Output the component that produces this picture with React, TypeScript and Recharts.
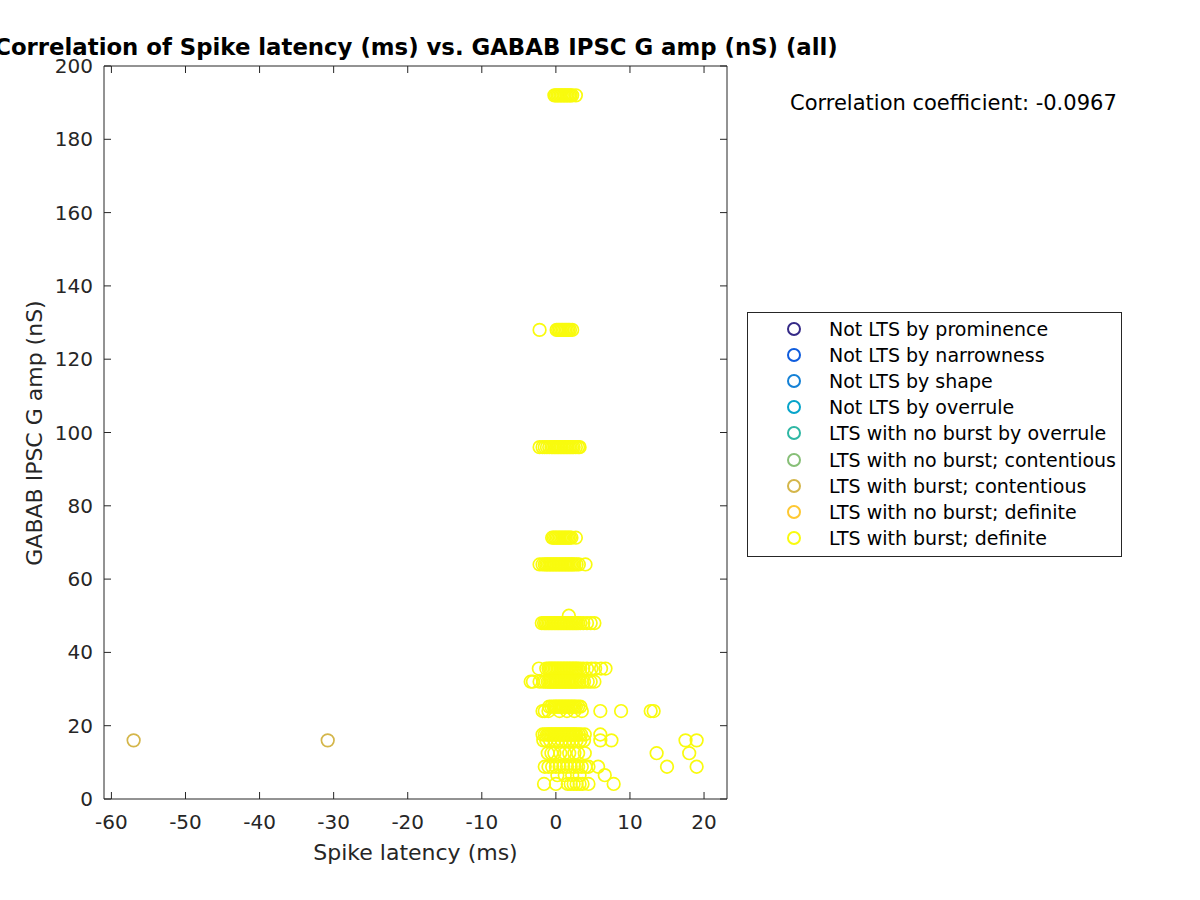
import React from "react";
import {
	ScatterChart,
	Scatter,
	XAxis,
	YAxis,
	Label,
} from "recharts";

// latencies (ms) for each GABAB amplitude level (nS), LTS with burst; definite
const amp192 = [-0.2, 0.0, 0.2, 0.4, 0.6, 0.8, 1.0, 1.2, 1.4, 1.6, 1.8, 2.0, 2.2, 2.7];
const amp128 = [-2.2, 0.1, 0.3, 0.5, 0.7, 0.9, 1.1, 1.3, 1.5, 1.7, 1.9, 2.2];
const amp96 = [-2.2, -1.8, -1.5, -1.2, -0.9, -0.6, -0.4, -0.2, 0.0, 0.2, 0.4, 0.6, 0.8, 1.0, 1.2, 1.4, 1.6, 1.8, 2.0, 2.2, 2.4, 2.7, 3.0, 3.2];
const amp71 = [-0.5, -0.3, -0.1, 0.1, 0.3, 0.5, 0.7, 0.9, 1.1, 1.3, 1.5, 1.7, 1.9, 2.1, 2.7];
const amp64 = [-2.2, -1.8, -1.5, -1.3, -1.1, -0.9, -0.7, -0.5, -0.3, -0.1, 0.1, 0.3, 0.5, 0.7, 0.9, 1.1, 1.3, 1.5, 1.7, 1.9, 2.1, 2.3, 2.5, 2.8, 3.1, 4.0];
const amp50 = [1.75];
const amp48 = [-1.9, -1.6, -1.4, -1.2, -1.0, -0.8, -0.6, -0.4, -0.2, 0.0, 0.2, 0.4, 0.6, 0.8, 1.0, 1.2, 1.4, 1.6, 1.8, 2.0, 2.2, 2.4, 2.6, 2.8, 3.0, 3.3, 3.7, 4.2, 4.7, 5.2];
const amp36 = [-2.3, -1.3, -1.0, -0.8, -0.6, -0.4, -0.2, 0.0, 0.2, 0.4, 0.6, 0.8, 1.0, 1.2, 1.4, 1.6, 1.8, 2.0, 2.2, 2.4, 2.6, 2.8, 3.0, 3.3, 3.7, 4.2, 4.8, 5.3, 6.1, 6.7];
const amp32 = [-3.4, -3.1, -2.2, -1.7, -1.4, -1.1, -0.9, -0.7, -0.5, -0.3, -0.1, 0.1, 0.3, 0.5, 0.7, 0.9, 1.1, 1.3, 1.5, 1.7, 1.9, 2.1, 2.3, 2.5, 2.7, 2.9, 3.2, 3.5, 3.8, 4.3, 4.7, 5.2];
const amp25 = [-0.9, -0.6, -0.3, -0.1, 0.1, 0.3, 0.5, 0.7, 0.9, 1.1, 1.3, 1.5, 1.7, 1.9, 2.1, 2.3, 2.5, 2.7, 3.0, 3.3];
const amp24 = [-1.8, -1.5, -1.0, 0.5, 1.5, 2.5, 3.5, 6.0, 8.8, 12.8, 13.2];
const amp17 = [-1.8, -1.5, -1.2, -1.0, -0.8, -0.6, -0.4, -0.2, 0.0, 0.2, 0.4, 0.6, 0.8, 1.0, 1.2, 1.4, 1.6, 1.8, 2.0, 2.2, 2.4, 2.6, 2.8, 3.1, 3.4, 3.9, 6.0];
const amp16 = [-1.7, -1.3, -0.8, -0.2, 0.3, 0.8, 1.3, 1.8, 2.3, 2.8, 3.3, 3.8, 6.0, 7.5, 17.5, 19.0];
const amp12 = [-1.1, -0.6, -0.2, 0.6, 1.2, 1.8, 2.5, 3.0, 3.9, 13.6, 18.0];
const amp9 = [-1.5, -1.0, -0.5, 0.0, 0.5, 1.0, 1.5, 2.0, 2.5, 3.0, 3.5, 4.0, 4.4, 5.7, 15.0, 19.0];
const amp6 = [0.2, 1.2, 2.2, 3.2, 6.6];
const amp4 = [-1.6, 0.0, 1.6, 2.0, 2.4, 2.8, 3.2, 3.6, 4.4, 7.8];

// LTS with burst; contentious
const contentiousLatency = [-57.0, -30.8];
const contentiousAmp = [16, 16];

const rows: [number, number[]][] = [
	[192, amp192],
	[128, amp128],
	[96, amp96],
	[71.3, amp71],
	[64, amp64],
	[50, amp50],
	[48, amp48],
	[35.6, amp36],
	[32, amp32],
	[25.2, amp25],
	[24, amp24],
	[17.6, amp17],
	[16, amp16],
	[12.5, amp12],
	[8.8, amp9],
	[6.5, amp6],
	[4.1, amp4],
];

const categories = [
	"Not LTS by prominence",
	"Not LTS by narrowness",
	"Not LTS by shape",
	"Not LTS by overrule",
	"LTS with no burst by overrule",
	"LTS with no burst; contentious",
	"LTS with burst; contentious",
	"LTS with no burst; definite",
	"LTS with burst; definite",
];
const colors = [
	"#352a87",
	"#0f5cdd",
	"#1481d6",
	"#06a4ca",
	"#2eb7a4",
	"#87bf77",
	"#d4b64a",
	"#fec832",
	"#f9fb0e",
];

const xTicks = [-60, -50, -40, -30, -20, -10, 0, 10, 20];
const yTicks = [0, 20, 40, 60, 80, 100, 120, 140, 160, 180, 200];

const definiteData = rows.flatMap(([amp, lats]) => lats.map((x) => ({ x, y: amp })));
const contentiousData = contentiousLatency.map((x, i) => ({ x, y: contentiousAmp[i] }));

const FONT = "DejaVu Sans, sans-serif";
const INK = "#262626";

const ring = (color: string) => (props: any) => (
	<circle cx={props.cx} cy={props.cy} r={6.3} fill="none" stroke={color} strokeWidth={1.7} />
);

const BottomTick = ({ x, y, payload }: any) => (
	<g>
		<line x1={x} x2={x} y1={y} y2={y - 7} stroke={INK} />
		<text x={x} y={y + 30} textAnchor="middle" fontSize={20} fill={INK} fontFamily={FONT}>
			{payload.value}
		</text>
	</g>
);
const TopTick = ({ x, y }: any) => <line x1={x} x2={x} y1={y} y2={y + 7} stroke={INK} />;
const LeftTick = ({ x, y, payload }: any) => (
	<g>
		<line x1={x} x2={x + 7} y1={y} y2={y} stroke={INK} />
		<text x={x - 11} y={y + 7} textAnchor="end" fontSize={20} fill={INK} fontFamily={FONT}>
			{payload.value}
		</text>
	</g>
);
const RightTick = ({ x, y }: any) => <line x1={x} x2={x - 7} y1={y} y2={y} stroke={INK} />;

const LegendBox = () => (
	<div
		style={{
			position: "absolute",
			left: 747,
			top: 312,
			border: "1px solid #262626",
			background: "#fff",
			width: 373,
			height: 240,
			boxSizing: "content-box",
			paddingTop: 3,
			fontFamily: FONT,
			fontSize: 19,
			color: "#000",
		}}
	>
		{categories.map((c, i) => (
			<div key={c} style={{ height: 26.1, display: "flex", alignItems: "center" }}>
				<svg width={81} height={26}>
					<circle cx={46} cy={13} r={6} fill="none" stroke={colors[i]} strokeWidth={2} />
				</svg>
				<span style={{ whiteSpace: "nowrap" }}>{c}</span>
			</div>
		))}
	</div>
);

const App = () => {
	return (
		<div style={{ position: "absolute", left: 0, top: 0, width: 1200, height: 900, background: "#fff" }}>
			<ScatterChart width={1200} height={900} margin={{ top: 65, right: 472, bottom: 31, left: 44 }}>
				<XAxis
					dataKey="x"
					type="number"
					domain={[-61, 23.1]}
					ticks={xTicks}
					height={70}
					tickSize={0}
					tickMargin={0}
					tick={<BottomTick />}
					axisLine={{ stroke: INK }}
					allowDataOverflow
				>
					<Label
						content={() => (
							<text x={415.5} y={860} textAnchor="middle" fontSize={22} fill={INK} fontFamily={FONT}>
								Spike latency (ms)
							</text>
						)}
					/>
				</XAxis>
				<XAxis
					xAxisId="top"
					dataKey="x"
					type="number"
					orientation="top"
					domain={[-61, 23.1]}
					ticks={xTicks}
					height={1}
					tickSize={0}
					tickMargin={0}
					tick={<TopTick />}
					axisLine={{ stroke: INK }}
					allowDataOverflow
				/>
				<YAxis
					dataKey="y"
					type="number"
					domain={[0, 200]}
					ticks={yTicks}
					width={60}
					tickSize={0}
					tickMargin={0}
					tick={<LeftTick />}
					axisLine={{ stroke: INK }}
					allowDataOverflow
				>
					<Label
						content={() => (
							<text
								transform="translate(42,433) rotate(-90)"
								textAnchor="middle"
								fontSize={22}
								fill={INK}
								fontFamily={FONT}
							>
								GABAB IPSC G amp (nS)
							</text>
						)}
					/>
				</YAxis>
				<YAxis
					yAxisId="right"
					dataKey="y"
					type="number"
					orientation="right"
					domain={[0, 200]}
					ticks={yTicks}
					width={1}
					tickSize={0}
					tickMargin={0}
					tick={<RightTick />}
					axisLine={{ stroke: INK }}
					allowDataOverflow
				/>
				<Scatter
					name={categories[6]}
					data={contentiousData}
					shape={ring(colors[6])}
					isAnimationActive={false}
				/>
				<Scatter
					name={categories[8]}
					data={definiteData}
					shape={ring(colors[8])}
					isAnimationActive={false}
				/>
			</ScatterChart>
			<div
				style={{
					position: "absolute",
					left: -84,
					width: 1000,
					top: 34,
					textAlign: "center",
					fontFamily: FONT,
					fontWeight: "bold",
					fontSize: 22.8,
					whiteSpace: "nowrap",
					color: "#000",
				}}
			>
				Correlation of Spike latency (ms) vs. GABAB IPSC G amp (nS) (all)
			</div>
			<div
				style={{
					position: "absolute",
					left: 790,
					top: 91,
					fontFamily: FONT,
					fontSize: 21,
					whiteSpace: "nowrap",
					color: "#000",
				}}
			>
				Correlation coefficient: -0.0967
			</div>
			<LegendBox />
		</div>
	);
};

export default App;
